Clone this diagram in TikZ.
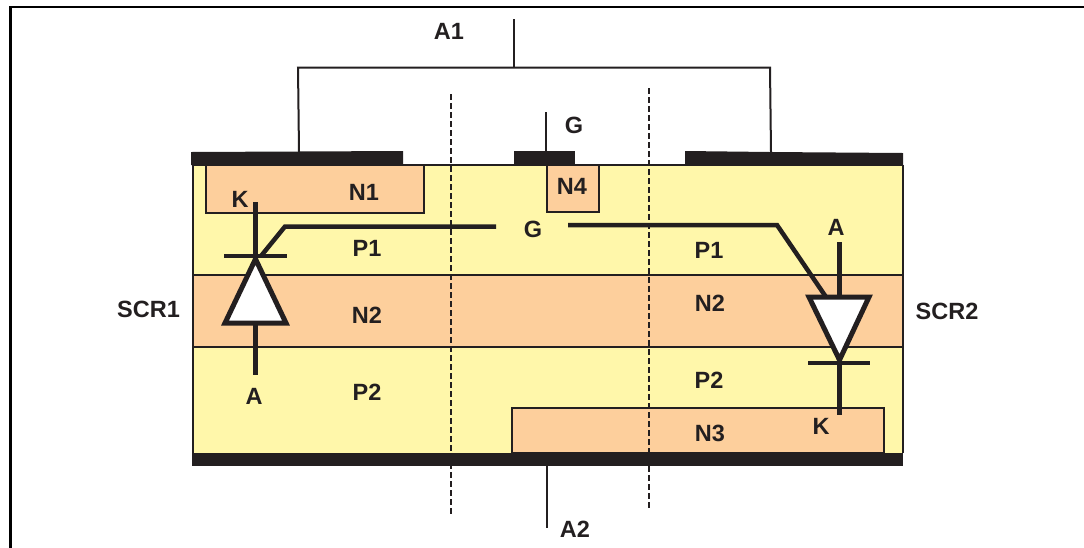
\documentclass[tikz,border=0pt]{standalone}
\usepackage{fontspec}
\setmainfont{Liberation Sans}
\definecolor{ink}{HTML}{231F20}
\definecolor{pyel}{HTML}{FFF7AA}
\definecolor{norg}{HTML}{FDCF9C}
\tikzset{
  lab/.style={font=\fontsize{23.5}{25}\selectfont\bfseries,text=ink,inner sep=0pt,anchor=center},
  metal/.style={fill=ink,draw=none},
  nreg/.style={fill=norg,draw=ink,line width=2pt},
  wire/.style={draw=ink,line width=2pt},
  thick wire/.style={draw=ink,line width=4.5pt},
  dashline/.style={draw=ink,line width=2pt,dash pattern=on 5.5pt off 3.5pt},
  diode/.style={draw=ink,fill=white,line width=5pt,miter limit=10},
}
\begin{document}
\begin{tikzpicture}[x=1pt,y=-1pt]
\useasboundingbox (0,0) rectangle (1084,547);
% frame
\draw[black,line width=2.5pt] (10.5,548) -- (10.5,7) -- (1085,7);
% body
\fill[pyel] (193,165) rectangle (903,453);
\path[fill=norg] (193,275) rectangle (903,347);
\draw[wire] (193,275) -- (903,275);
\draw[wire] (193,347) -- (903,347);
\draw[wire] (193,165) -- (193,453);
\draw[wire] (903,165) -- (903,453);
\draw[wire] (193,165) -- (903,165);
\path[nreg] (206,165) rectangle (424,213);
\path[nreg] (547,165) rectangle (599,212);
\path[nreg] (511.5,408) rectangle (884,453);
% metals
\path[metal] (191,152) -- (403,151) -- (403,165) -- (191,165) -- cycle;
\path[metal] (514,151) rectangle (575,165);
\path[metal] (685,151) -- (770,152) -- (903,153) -- (903,165) -- (685,165) -- cycle;
\path[metal] (192,453) rectangle (903,466);
% dashed
\coordinate (d1t) at (450.5,94); \coordinate (d1b) at (450.5,515);
\coordinate (d2t) at (648.5,88); \coordinate (d2b) at (648.5,510);
\draw[dashline] (d1t) -- (d1b);
\draw[dashline] (d2t) -- (d2b);
% A1 wires
\coordinate (a1t) at (514,19); \coordinate (a1j) at (514,67.5);
\coordinate (a1l) at (298,67.5); \coordinate (a1r) at (770,67.5);
\coordinate (a1lb) at (299,152); \coordinate (a1rb) at (771,152);
\draw[wire] (a1t) -- (a1j);
\draw[wire] (a1lb) -- (a1l) -- (a1r) -- (a1rb);
% G and A2 wires
\coordinate (gt) at (546,112); \coordinate (gb) at (546,152);
\coordinate (a2t) at (547,466); \coordinate (a2b) at (547,528);
\draw[wire] (gt) -- (gb);
\draw[wire] (a2t) -- (a2b);
% SCR1
\coordinate (k1) at (255.5,202); \coordinate (b1) at (255.5,256);
\coordinate (c1) at (255.5,323); \coordinate (a1e) at (255.5,375);
\draw[thick wire] (k1) -- (b1);
\draw[thick wire] (c1) -- (a1e);
\draw[thick wire] (224,256) -- (287,256);
\draw[thick wire] (261,256) -- (285,226.5) -- (496,226.5);
\path[diode] (255.5,259) -- (286,323) -- (225,323) -- cycle;
% SCR2
\coordinate (a2e) at (839.5,242); \coordinate (c2) at (839.5,297);
\coordinate (b2) at (839.5,363); \coordinate (k2) at (839.5,415);
\draw[thick wire] (a2e) -- (c2);
\draw[thick wire] (b2) -- (k2);
\draw[thick wire] (808,363) -- (870,363);
\draw[thick wire] (568,225) -- (777,225) -- (826,297);
\path[diode] (809,297) -- (869,297) -- (839.5,360) -- cycle;
% labels
\node[lab] (lA1) at (449,31) {A1};
\node[lab] (lG1) at (574,125) {G};
\node[lab] (lN1) at (364,192) {N1};
\node[lab] (lN4) at (572,186) {N4};
\node[lab] (lK1) at (240,199) {K};
\node[lab] (lG2) at (533,229) {G};
\node[lab] (lP1a) at (367,248) {P1};
\node[lab] (lP1b) at (709,250) {P1};
\node[lab] (lA2x) at (836,227) {A};
\node[lab] (lSCR1) at (148.5,309) {SCR1};
\node[lab] (lSCR2) at (947,311) {SCR2};
\node[lab] (lN2a) at (367,315) {N2};
\node[lab] (lN2b) at (710,303) {N2};
\node[lab] (lP2a) at (367,392) {P2};
\node[lab] (lP2b) at (709,380) {P2};
\node[lab] (lA) at (254,396) {A};
\node[lab] (lN3) at (710,433) {N3};
\node[lab] (lK2) at (821,426) {K};
\node[lab] (lA2) at (575,529) {A2};
\end{tikzpicture}
\end{document}
